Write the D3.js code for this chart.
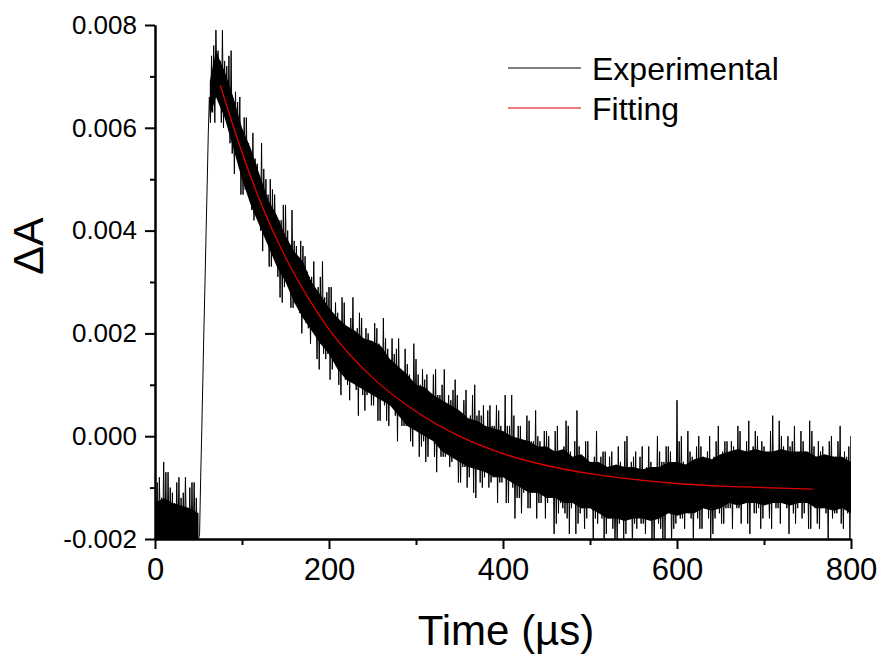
<!DOCTYPE html>
<meta charset="utf-8">
<script src="https://d3js.org/d3.v7.min.js"></script>
<style>
  body { margin: 0; background: #fff; }
  text { font-family: "Liberation Sans", Arial, sans-serif; fill: #000; }
</style>
<div id="chart"></div>
<script>

// transient absorption trace, values are dA x 1000
// the record is read every 5 us, at four offsets inside each step:
// expA at t, expB at t+1.25, expC at t+2.5, expD at t+3.75
const step = 5;
const expA = [
  -1.0, -0.8, -0.5, -0.7, -1.1, -0.9, -1.2, -0.8, -1.0, -0.9,
  -2.0, 1.1, 4.9,
  7.4, 7.9, 7.3, 7.3, 7.4, 6.5, 6.5, 5.8,
  6.2, 5.5, 5.4, 4.8, 5.2, 4.7, 4.8, 4.1, 4.2, 4.5,
  3.7, 3.8, 3.3, 3.7, 3.2, 3.1, 2.6, 3.1, 2.7, 2.9,
  2.2, 2.4, 2.7, 2.0, 2.3, 1.8, 2.4, 1.9, 2.0, 1.5,
  2.1, 1.7, 1.9, 1.4, 1.6, 1.9, 1.2, 1.4, 1.0, 1.5,
  1.0, 1.1, 0.6, 1.2, 0.8, 1.0, 0.5, 0.7, 1.1, 0.4,
  0.7, 0.2, 0.8, 0.4, 0.4, 0.0, 0.6, 0.2, 0.5, -0.1,
  0.2, 0.8, -0.1, 0.2, -0.3, 0.3, -0.1, 0.0, -0.5, 0.1,
  -0.3, 0.1, -0.5, -0.2, 0.2, -0.5, 0.5, -0.6, -0.1, -0.5,
  -0.4, -0.8, -0.3, -0.6, -0.3, -0.8, -0.5, -0.1, -0.7, -0.4,
  -0.8, -0.2, -0.6, -0.5, -0.9, -0.3, -0.5, -0.2, -0.7, 0.7,
  0.0, -0.6, -0.3, -0.7, 0.0, -0.4, -0.3, -0.7, -0.1, -0.4,
  -0.1, -0.5, -0.2, 0.2, -0.4, -0.1, -0.5, 0.1, -0.3, -0.2,
  -0.6, 0.4, -0.3, 0.0, -0.5, -0.2, 0.2, -0.4, -0.1, -0.5,
  0.1, -0.4, -0.3, -0.7, -0.1, -0.4, -0.1, -0.6, -0.4, 0.0
];
const expB = [
  -2.2, -1.9, -2.3, -2.0, -2.3, -2.1, -2.2, -2.0, -2.3, -2.2,
  -1.9, 2.1, 5.9,
  6.3, 6.8, 6.1, 6.2, 5.7, 5.1, 5.4, 4.7,
  4.8, 4.4, 4.5, 4.0, 4.1, 3.3, 3.5, 3.1, 2.6, 3.1,
  2.5, 2.6, 2.4, 2.5, 2.1, 2.2, 1.5, 1.8, 1.5, 1.1,
  1.5, 1.0, 1.2, 1.0, 1.3, 0.9, 1.2, 0.5, 0.9, 0.6,
  0.3, 0.8, 0.3, 0.6, 0.4, 0.6, 0.2, 0.4, -0.2, 0.1,
  -0.2, -0.5, 0.0, -0.4, -0.2, -0.4, -0.1, -0.5, -0.2, -0.9,
  -0.6, -0.8, -1.1, -0.6, -1.0, -0.7, -0.9, -0.6, -0.9, -0.7,
  -1.3, -1.0, -1.2, -1.5, -1.0, -1.4, -1.1, -1.3, -1.0, -1.3,
  -1.1, -1.7, -1.3, -1.5, -1.9, -1.3, -1.7, -1.4, -1.6, -1.3,
  -1.6, -1.3, -2.0, -1.6, -1.8, -2.1, -1.5, -1.9, -1.6, -1.7,
  -1.4, -1.7, -1.4, -2.0, -1.6, -1.8, -2.0, -1.4, -1.8, -1.5,
  -1.6, -1.3, -1.6, -1.3, -1.8, -1.4, -1.6, -1.9, -1.3, -1.7,
  -1.4, -1.4, -1.1, -1.4, -1.1, -1.7, -1.3, -1.5, -1.8, -1.2,
  -1.6, -1.3, -1.4, -1.1, -1.4, -1.1, -1.7, -1.3, -1.5, -1.8,
  -1.2, -1.7, -1.4, -1.5, -1.2, -1.5, -1.2, -1.8, -1.5, -1.7
];
const expC = [
  -0.9, -1.2, -0.7, -1.0, -1.3, -0.8, -1.1, -1.4, -0.9, -1.2,
  -0.8, 3.0, 6.6,
  7.6, 7.5, 7.9, 7.2, 7.5, 6.7, 6.6, 6.2,
  5.7, 5.9, 5.3, 5.7, 5.0, 5.0, 4.7, 4.2, 4.5, 4.0,
  4.4, 3.7, 3.8, 3.5, 3.1, 3.4, 2.9, 3.4, 2.8, 2.9,
  2.6, 2.2, 2.6, 2.1, 2.7, 2.1, 2.3, 2.1, 1.8, 2.2,
  1.8, 2.3, 1.7, 1.9, 1.7, 1.3, 1.7, 1.2, 1.8, 1.2,
  1.3, 1.2, 0.8, 1.3, 0.8, 1.3, 0.8, 0.9, 0.8, 0.4,
  0.9, 0.4, 1.0, 0.5, 0.6, 0.5, 0.2, 0.6, 0.2, 0.8,
  0.2, 0.4, 0.2, -0.1, 0.4, -0.1, 0.5, -0.1, 0.1, 0.0,
  -0.4, 0.2, -0.3, 0.3, -0.3, -0.1, -0.2, -0.5, -0.1, -0.5,
  0.1, -0.4, -0.3, -0.4, -0.7, -0.2, -0.6, 0.0, -0.5, -0.3,
  -0.4, -0.7, -0.2, -0.6, 0.0, -0.5, -0.2, -0.3, -0.6, -0.1,
  -0.5, 0.1, -0.4, -0.2, -0.2, -0.5, 0.0, -0.4, 0.2, -0.3,
  -0.1, -0.1, -0.4, 0.1, -0.3, 0.3, -0.2, 0.0, -0.1, -0.4,
  0.1, -0.3, 0.3, -0.2, 0.0, -0.1, -0.4, 0.1, -0.3, 0.3,
  -0.2, -0.1, -0.2, -0.5, 0.0, -0.4, 0.2, -0.3, -0.2, -0.3
];
const expD = [
  -2.2, -2.0, -2.3, -2.1, -2.2, -2.3, -2.0, -2.2, -2.1, -2.2,
  0.1, 4.0, 6.1,
  6.1, 6.6, 6.0, 6.1, 5.5, 5.7, 4.7, 4.8,
  4.7, 4.2, 4.3, 3.6, 3.8, 3.3, 3.6, 2.7, 2.9, 2.9,
  2.5, 2.6, 2.0, 2.2, 1.8, 2.1, 1.3, 1.6, 1.6, 1.3,
  1.4, 0.8, 1.1, 0.7, 1.2, 0.4, 0.8, 0.8, 0.6, 0.8,
  0.3, 0.6, 0.2, 0.7, -0.1, 0.2, 0.2, -0.1, 0.2, -0.4,
  -0.1, -0.4, 0.0, -0.7, -0.4, -0.4, -0.6, -0.4, -0.9, -0.6,
  -1.0, -0.5, -1.2, -0.9, -0.8, -1.0, -0.8, -1.3, -0.9, -1.3,
  -0.8, -1.6, -1.2, -1.1, -1.4, -1.1, -1.6, -1.3, -1.6, -1.1,
  -1.9, -1.5, -1.4, -1.6, -1.4, -1.9, -1.5, -1.8, -1.4, -2.1,
  -1.7, -1.6, -1.9, -1.6, -2.1, -1.7, -2.0, -1.5, -2.2, -1.8,
  -1.7, -1.9, -1.6, -2.1, -1.7, -2.0, -1.4, -2.1, -1.7, -1.6,
  -1.8, -1.5, -2.0, -1.6, -1.8, -1.3, -2.0, -1.6, -1.5, -1.7,
  -1.4, -1.8, -1.4, -1.7, -1.2, -1.9, -1.5, -1.4, -1.6, -1.3,
  -1.8, -1.4, -1.7, -1.2, -1.9, -1.5, -1.4, -1.6, -1.3, -1.8,
  -1.4, -1.8, -1.3, -2.0, -1.6, -1.5, -1.7, -1.4, -2.0, -1.6
];

// edges of the densely inked core of the trace, dA x 1000 (null = no core, the rise)
const coreTime = [0, 10, 20, 30, 40, 50, 56, 63,
  70, 80, 90, 100, 110, 120, 130, 140, 150, 160, 170, 180, 190, 200,
  210, 220, 230, 240, 250, 260, 270, 280, 290, 300, 310, 320, 330, 340, 350,
  360, 370, 380, 390, 400, 410, 420, 430, 440, 450, 460, 470, 480, 490, 500,
  510, 520, 530, 540, 550, 560, 570, 580, 590, 600, 610, 620, 630, 640, 650,
  660, 670, 680, 690, 700, 710, 720, 730, 740, 750, 760, 770, 780, 790, 800];
const coreUpper = [-1.3, -1.2, -1.3, -1.35, -1.4, -1.5, null, 6.9,
  7.5, 7.1, 6.6, 6.0, 5.6, 5.1, 4.6, 4.3, 3.9, 3.6, 3.4, 3.0, 2.75, 2.5,
  2.3, 2.15, 2.05, 1.9, 1.85, 1.75, 1.5, 1.35, 1.2, 1.0, 0.95, 0.8, 0.7, 0.6, 0.5,
  0.35, 0.3, 0.2, 0.15, 0.1, 0.0, -0.05, -0.1, -0.2, -0.2, -0.3, -0.25, -0.4, -0.35, -0.5,
  -0.5, -0.6, -0.55, -0.6, -0.6, -0.65, -0.6, -0.6, -0.5, -0.5, -0.55, -0.45, -0.4, -0.45, -0.35,
  -0.3, -0.25, -0.3, -0.25, -0.3, -0.3, -0.25, -0.3, -0.3, -0.3, -0.4, -0.35, -0.4, -0.4, -0.5];
const coreLower = [-2.2, -2.2, -2.2, -2.2, -2.2, -2.2, null, 6.2,
  6.6, 6.2, 5.6, 5.0, 4.5, 4.1, 3.7, 3.3, 3.0, 2.6, 2.3, 2.05, 1.8, 1.6,
  1.3, 1.1, 1.0, 0.9, 0.8, 0.7, 0.6, 0.4, 0.2, 0.1, 0.0, -0.1, -0.3, -0.4, -0.5,
  -0.6, -0.65, -0.7, -0.8, -0.8, -0.9, -1.0, -1.1, -1.1, -1.2, -1.2, -1.3, -1.3, -1.4, -1.4,
  -1.5, -1.6, -1.6, -1.65, -1.6, -1.6, -1.65, -1.6, -1.5, -1.55, -1.5, -1.5, -1.4, -1.45, -1.4,
  -1.3, -1.35, -1.3, -1.3, -1.35, -1.3, -1.3, -1.35, -1.3, -1.3, -1.4, -1.4, -1.45, -1.4, -1.5];

// exponential fit, dA x 1000
const fitTime  = [75, 100, 125, 150, 175, 200, 250, 300, 350, 400, 450, 500, 550, 600, 650, 700, 756];
const fitValue = [6.83, 5.52, 4.40, 3.48, 2.72, 2.08, 1.14, 0.48, 0.00, -0.34, -0.57, -0.73, -0.84, -0.92, -0.97, -1.00, -1.03];

const xTicks = [0, 200, 400, 600, 800];
const xMinorTicks = [100, 300, 500, 700];
const yTicks = [-0.002, 0, 0.002, 0.004, 0.006, 0.008];
const yMinorTicks = [-0.001, 0.001, 0.003, 0.005, 0.007];

const legendNames = ["Experimental", "Fitting"];
const legendColors = ["#000", "#e00000"];

var margin = {top: 25, right: 29, bottom: 120, left: 155},
    width = 880 - margin.left - margin.right,
    height = 659 - margin.top - margin.bottom;

var svg = d3.select("#chart")
  .append("svg")
    .attr("width", 880)
    .attr("height", 659);

var g = svg.append("g")
    .attr("transform", "translate(" + margin.left + "," + margin.top + ")");

var x = d3.scaleLinear().domain([0, 800]).range([0, width]);
var y = d3.scaleLinear().domain([-0.002, 0.008]).range([height, 0]);

g.append("clipPath")
    .attr("id", "plotclip")
  .append("rect")
    .attr("width", width)
    .attr("height", height);

var dataLayer = g.append("g").attr("clip-path", "url(#plotclip)");

// dense core of the trace
var core = coreTime.map(function(t, i) {
  return {t: t, hi: coreUpper[i], lo: coreLower[i]};
});

dataLayer.append("path")
    .datum(core)
    .attr("fill", legendColors[0])
    .attr("d", d3.area()
      .defined(function(d) { return d.hi !== null; })
      .x(function(d) { return x(d.t); })
      .y0(function(d) { return y(d.lo / 1000); })
      .y1(function(d) { return y(d.hi / 1000); }));

// experimental trace, quarter-step samples in time order
var expPoints = [];
expA.forEach(function(v, i) {
  var t = i * step;
  expPoints.push([t, v / 1000]);
  expPoints.push([t + step / 4, expB[i] / 1000]);
  expPoints.push([t + step / 2, expC[i] / 1000]);
  expPoints.push([t + 3 * step / 4, expD[i] / 1000]);
});

var line = d3.line()
    .x(function(d) { return x(d[0]); })
    .y(function(d) { return y(d[1]); });

dataLayer.append("path")
    .datum(expPoints)
    .attr("fill", "none")
    .attr("stroke", legendColors[0])
    .attr("stroke-width", 1)
    .attr("stroke-linejoin", "bevel")
    .attr("d", line);

// fit curve
var fitPoints = fitTime.map(function(t, i) { return [t, fitValue[i] / 1000]; });

g.append("path")
    .datum(fitPoints)
    .attr("fill", "none")
    .attr("stroke", legendColors[1])
    .attr("stroke-width", 1.3)
    .attr("d", line.curve(d3.curveMonotoneX));

// axes
function styleAxis(sel) {
  sel.select(".domain").attr("stroke-width", 2);
  sel.selectAll(".tick line").attr("stroke-width", 2);
}

g.append("g")
    .attr("transform", "translate(0," + height + ")")
    .call(d3.axisBottom(x).tickValues(xMinorTicks).tickSize(6).tickSizeOuter(0).tickFormat(""))
    .call(styleAxis);

g.append("g")
    .attr("transform", "translate(0," + height + ")")
    .call(d3.axisBottom(x).tickValues(xTicks).tickSize(10).tickSizeOuter(0).tickPadding(9))
    .call(styleAxis)
    .selectAll("text")
      .style("font-size", "31px");

g.append("g")
    .call(d3.axisLeft(y).tickValues(yMinorTicks).tickSize(5).tickSizeOuter(0).tickFormat(""))
    .call(styleAxis);

g.append("g")
    .call(d3.axisLeft(y).tickValues(yTicks).tickSize(10).tickSizeOuter(0).tickPadding(8)
      .tickFormat(function(d) { return d.toFixed(3); }))
    .call(styleAxis)
    .selectAll("text")
      .style("font-size", "26px");

// axis titles
svg.append("text")
    .attr("x", 506)
    .attr("y", 645)
    .attr("text-anchor", "middle")
    .style("font-size", "42px")
    .text("Time (µs)");

svg.append("text")
    .attr("transform", "translate(43,246) rotate(-90)")
    .attr("text-anchor", "middle")
    .style("font-size", "43px")
    .text("ΔA");

// legend
var legend = svg.selectAll(".legend")
    .data(legendNames)
    .enter()
    .append("g")
      .attr("transform", function(d, i) { return "translate(508," + (68 + i * 40) + ")"; });

legend.append("line")
    .attr("x1", 0)
    .attr("x2", 73)
    .attr("stroke", function(d, i) { return legendColors[i]; })
    .attr("stroke-width", 1);

legend.append("text")
    .attr("x", 84)
    .attr("y", 12)
    .style("font-size", "32px")
    .text(function(d) { return d; });

</script>
